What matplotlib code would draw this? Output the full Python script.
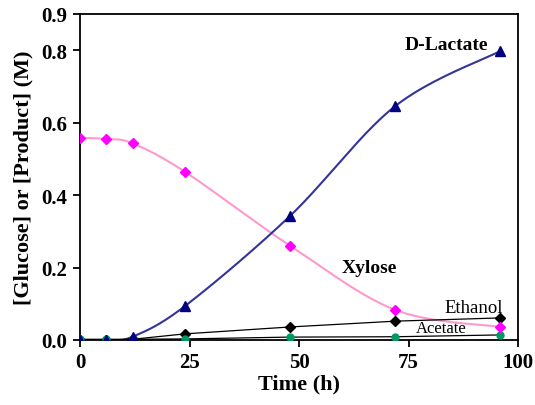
import numpy as np
import matplotlib
matplotlib.use("Agg")
import matplotlib.pyplot as plt

plt.rcParams['font.family'] = ['Liberation Serif', 'DejaVu Serif']

# sampling times (h) and concentrations (M)
time_h = [0, 6, 12, 24, 48, 72, 96]
xylose = [0.558, 0.555, 0.543, 0.464, 0.260, 0.083, 0.036]
lactate = [0.0, 0.0, 0.009, 0.094, 0.343, 0.646, 0.798]
ethanol = [0.0, 0.0, 0.002, 0.017, 0.036, 0.052, 0.061]
acetate = [0.002, 0.002, 0.002, 0.003, 0.008, 0.009, 0.014]

yticks = [0.0, 0.2, 0.4, 0.6, 0.8, 0.9]
xticks = [0, 25, 50, 75, 100]


def smooth(x, y, n=40):
    # catmull-rom style bezier through the points, like a spreadsheet "smoothed line"
    x = np.asarray(x, float)
    y = np.asarray(y, float)
    px = np.concatenate([[x[0]], x, [x[-1]]])
    py = np.concatenate([[y[0]], y, [y[-1]]])
    xs, ys = [], []
    t = np.linspace(0, 1, n)
    for i in range(1, len(px) - 2):
        p0 = np.array([px[i], py[i]])
        p3 = np.array([px[i + 1], py[i + 1]])
        c1 = p0 + (np.array([px[i + 1], py[i + 1]]) - np.array([px[i - 1], py[i - 1]])) / 6
        c2 = p3 - (np.array([px[i + 2], py[i + 2]]) - np.array([px[i], py[i]])) / 6
        b = ((1 - t) ** 3)[:, None] * p0 + (3 * (1 - t) ** 2 * t)[:, None] * c1 \
            + (3 * (1 - t) * t ** 2)[:, None] * c2 + (t ** 3)[:, None] * p3
        xs.append(b[:, 0])
        ys.append(b[:, 1])
    return np.concatenate(xs), np.concatenate(ys)


fig = plt.figure(figsize=(5.35, 4.06), dpi=100)
ax = fig.add_axes([80 / 535, 1 - 341 / 406, 438 / 535, 326 / 406])

sx, sy = smooth(time_h, xylose)
ax.plot(sx, sy, color='#FF99CC', lw=1.5, zorder=2)
ax.plot(time_h, xylose, ls='none', marker='D', ms=5, color='#FF00FF', zorder=4)

sx, sy = smooth(time_h, lactate)
ax.plot(sx, sy, color='#333399', lw=1.5, zorder=2)
ax.plot(time_h, lactate, ls='none', marker='^', ms=7, color='#000080', zorder=4)

ax.plot(time_h, ethanol, color='black', lw=0.9, marker='D', ms=5, zorder=3)
ax.plot(time_h, acetate, color='black', lw=0.9, marker='o', ms=5,
        mfc='#009966', mec='#009966', zorder=3)

ax.text(83.6, 0.815, 'D-Lactate', fontsize=14, fontweight='bold', ha='center', va='center')
ax.text(66.1, 0.199, 'Xylose', fontsize=14, fontweight='bold', ha='center', va='center')
ax.text(96.6, 0.077, 'Ethanol', fontsize=13.5, ha='right', va='baseline')
ax.text(82.4, 0.033, 'Acetate', fontsize=12, ha='center', va='center')

ax.set_xlim(0, 100)
ax.set_ylim(0, 0.9)
ax.set_xticks(xticks)
ax.set_yticks(yticks)
ax.set_xticklabels([str(v) for v in xticks], fontsize=15, fontweight='bold')
ax.set_yticklabels(['%.1f' % v for v in yticks], fontsize=15, fontweight='bold')
ax.tick_params(direction='out', length=5, width=1.3, top=False, right=False, pad=4)
for s in ax.spines.values():
    s.set_linewidth(1.3)

ax.set_xlabel('Time (h)', fontsize=16, fontweight='bold', labelpad=1)
ax.set_ylabel('[Glucose] or [Product] (M)', fontsize=16, fontweight='bold', labelpad=6)

fig.savefig('out.png', dpi=100)
